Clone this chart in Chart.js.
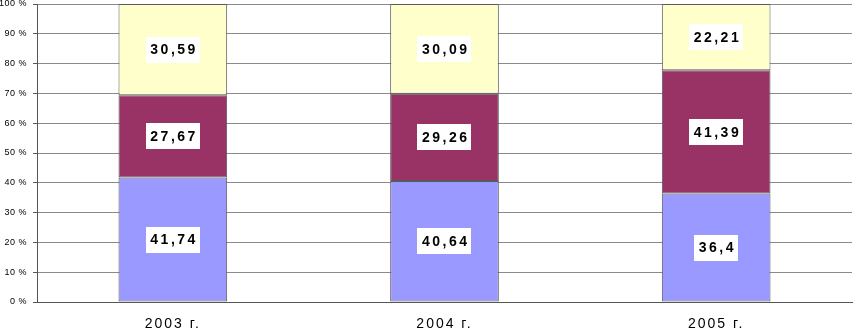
<!DOCTYPE html>
<html>
<head>
<meta charset="utf-8">
<script src="https://cdn.jsdelivr.net/npm/chart.js@4/dist/chart.umd.min.js"></script>
<style>
html,body{margin:0;padding:0;background:#fff;}
#wrap{width:854px;height:329px;position:relative;}
</style>
</head>
<body>
<div id="wrap"><canvas id="c" width="854" height="329"></canvas></div>
<script>
const categories = ['2003 г.', '2004 г.', '2005 г.'];
const seriesBottom = [41.74, 40.64, 36.4];
const seriesMiddle = [27.67, 29.26, 41.39];
const seriesTop = [30.59, 30.09, 22.21];
const yTicks = [0, 10, 20, 30, 40, 50, 60, 70, 80, 90, 100];

const FONT = "'Liberation Sans', Arial, sans-serif";

const spacingPlugin = {
  id: 'spacing',
  beforeDraw(chart) {
    const wrap = (scale, sp) => {
      if (!scale || scale._spWrapped) return;
      const orig = scale.drawLabels;
      scale.drawLabels = function (a) {
        const c = this.ctx;
        const prev = c.letterSpacing;
        c.letterSpacing = sp;
        orig.call(this, a);
        c.letterSpacing = prev;
      };
      scale._spWrapped = true;
    };
    wrap(chart.scales.x, '2px');
    wrap(chart.scales.y, '0.5px');
  }
};

const labelPlugin = {
  id: 'boxLabels',
  afterDatasetsDraw(chart) {
    const ctx = chart.ctx;
    ctx.save();
    ctx.font = 'bold 14px ' + FONT;
    ctx.letterSpacing = '2.5px';
    ctx.textAlign = 'left';
    ctx.textBaseline = 'middle';
    chart.data.datasets.forEach((ds, di) => {
      const meta = chart.getDatasetMeta(di);
      meta.data.forEach((el, i) => {
        const v = ds.data[i];
        const txt = String(v).replace('.', ',');
        const w = ctx.measureText(txt).width - 2.5;
        const cx = el.x;
        const cy = (el.y + el.base) / 2;
        const bw = w + 9, bh = 26;
        ctx.fillStyle = '#ffffff';
        ctx.fillRect(Math.round(cx - bw / 2), Math.round(cy - bh / 2), Math.round(bw), bh);
        ctx.fillStyle = '#000000';
        ctx.fillText(txt, cx - w / 2, cy + 1);
      });
    });
    ctx.restore();
  }
};

const common = { borderColor: '#5a5a5a', borderWidth: 1, borderSkipped: false, barPercentage: 0.8, categoryPercentage: 0.5 };

new Chart(document.getElementById('c'), {
  type: 'bar',
  data: {
    labels: categories,
    datasets: [
      Object.assign({ label: 'A', data: seriesBottom, backgroundColor: '#9999FF' }, common),
      Object.assign({ label: 'B', data: seriesMiddle, backgroundColor: '#993366' }, common),
      Object.assign({ label: 'C', data: seriesTop, backgroundColor: '#FFFFCC' }, common)
    ]
  },
  options: {
    responsive: false,
    animation: false,
    layout: { padding: { top: 4, right: 2, left: 0, bottom: 0 } },
    plugins: { legend: { display: false }, tooltip: { enabled: false } },
    scales: {
      x: {
        stacked: true,
        grid: { display: false, drawTicks: false },
        border: { display: true, color: '#555555', width: 1 },
        ticks: { color: '#000', font: { family: FONT, size: 14 }, padding: 14, maxRotation: 0 },
        afterFit(s) { s.height = 27; s.paddingLeft = 0; s.paddingRight = 0; }
      },
      y: {
        stacked: true,
        min: 0,
        max: 100,
        afterBuildTicks(s) { s.ticks = yTicks.map(v => ({ value: v })); },
        grid: { color: '#8a8a8a', lineWidth: 1, tickLength: 4, drawTicks: true, tickColor: '#555555' },
        border: { display: true, color: '#555555', width: 1 },
        ticks: { color: '#000', font: { family: FONT, size: 9 }, padding: 6, callback: v => v + ' %' },
        afterFit(s) { s.width = 37; s.paddingTop = 0; s.paddingBottom = 0; }
      }
    }
  },
  plugins: [spacingPlugin, labelPlugin]
});
</script>
</body>
</html>
